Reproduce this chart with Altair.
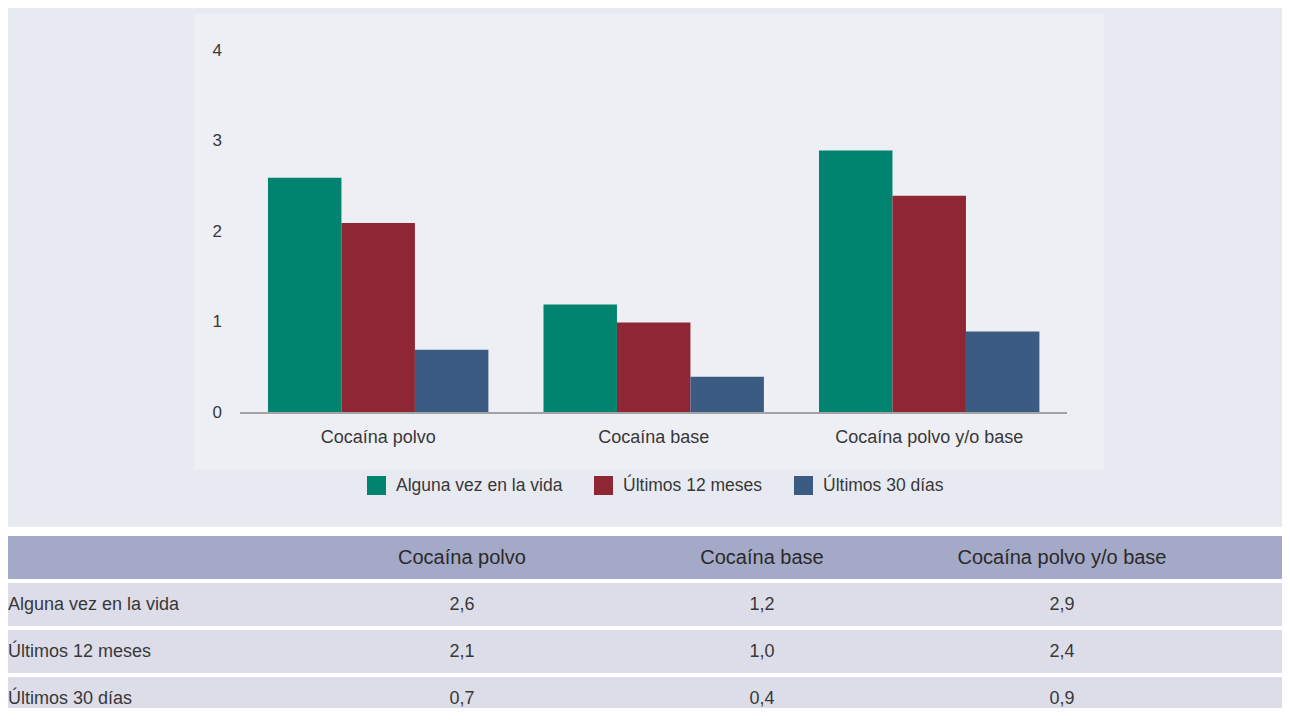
import altair as alt
import pandas as pd

# ---------------- data ----------------
categories = ["Cocaína polvo", "Cocaína base", "Cocaína polvo y/o base"]
series = ["Alguna vez en la vida", "Últimos 12 meses", "Últimos 30 días"]
alguna_vez = [2.6, 1.2, 2.9]
ultimos_12 = [2.1, 1.0, 2.4]
ultimos_30 = [0.7, 0.4, 0.9]
y_ticks = [0, 1, 2, 3, 4]

bar_colors = ["#00846f", "#8e2633", "#3c5b83"]

records = []
for s, vals in zip(series, [alguna_vez, ultimos_12, ultimos_30]):
    for c, v in zip(categories, vals):
        records.append({"cat": c, "serie": s, "valor": v})
df = pd.DataFrame(records)
cat_df = pd.DataFrame({"cat": categories})
tick_df = pd.DataFrame({"tick": y_ticks})

FONT = "Liberation Sans"
TXT = "#383838"
W = 1274
TOP_H = 519
TBL_H = 172

# pixel-identity scales for decorative panels
px = alt.Scale(domain=[0, W], nice=False, zero=False)
py = alt.Scale(domain=[0, TOP_H], reverse=True, nice=False, zero=False)

xs = alt.Scale(type="band", domain=categories, paddingInner=0.2, paddingOuter=0.912, align=0.5173)
ys = alt.Scale(domain=[-1.2597, 4.4751], nice=False, zero=False)

panels = pd.DataFrame({
    "x0": [0, 186], "x1": [W, 1096], "y0": [0, 6], "y1": [TOP_H, 462],
    "capa": ["fondo", "panel"],
})
bg = alt.Chart(panels).mark_rect().encode(
    x=alt.X("x0:Q", scale=px, axis=None), x2="x1:Q",
    y=alt.Y("y0:Q", scale=py, axis=None), y2="y1:Q",
    fill=alt.Fill("capa:N", scale=alt.Scale(domain=["fondo", "panel"], range=["#e8eaf2", "#eeeff4"]), legend=None),
)

bars = alt.Chart(df).mark_bar().encode(
    x=alt.X("cat:N", scale=xs, axis=None),
    xOffset=alt.XOffset("serie:N", scale=alt.Scale(domain=series)),
    y=alt.Y("valor:Q", scale=ys, axis=None),
    y2=alt.datum(0),
    color=alt.Color(
        "serie:N",
        scale=alt.Scale(domain=series, range=bar_colors),
        legend=alt.Legend(
            orient="none", legendX=359, legendY=468, direction="horizontal",
            title=None, symbolType="square", symbolSize=361, symbolStrokeWidth=0,
            labelFont=FONT, labelFontSize=17.5, labelColor=TXT, labelLimit=400,
            labelOffset=10, columnPadding=31, padding=0,
        ),
    ),
)

axis_line = pd.DataFrame({"x0": [232], "x1": [1059], "cero": [0]})
baseline = alt.Chart(axis_line).mark_rule(color="#a3a3a3", strokeWidth=2).encode(
    x=alt.X("x0:Q", scale=px, axis=None), x2="x1:Q",
    y=alt.Y("cero:Q", scale=ys, axis=None),
)

ytext = alt.Chart(tick_df).mark_text(
    align="right", baseline="middle", font=FONT, fontSize=17, color=TXT
).encode(y=alt.Y("tick:Q", scale=ys, axis=None), x=alt.value(214), text="tick:Q")

xtext = alt.Chart(cat_df).mark_text(
    baseline="middle", font=FONT, fontSize=18, color=TXT
).encode(x=alt.X("cat:N", scale=xs, axis=None), y=alt.value(430), text="cat:N")

top = alt.layer(bg, bars, baseline, ytext, xtext).resolve_scale(
    x="independent", y="independent", fill="independent", color="independent"
).properties(width=W, height=TOP_H)

# ---------------- bottom: table ----------------
row_keys = ["encabezado"] + series
row_df = pd.DataFrame({"fila": row_keys, "tipo": ["h", "b", "b", "b"], "ancho": [1, 1, 1, 1]})
yt = alt.Scale(domain=row_keys, range=[0, 184], paddingInner=4 / 47, paddingOuter=0)
xt = alt.Scale(type="band", domain=categories, paddingInner=0, paddingOuter=0.6233, align=0.8128)

row_bg = alt.Chart(row_df).mark_bar(clip=True).encode(
    y=alt.Y("fila:N", scale=yt, axis=None),
    x=alt.X("ancho:Q", scale=alt.Scale(domain=[0, 1], nice=False), axis=None),
    color=alt.Color("tipo:N", scale=alt.Scale(domain=["h", "b"], range=["#a3a9c6", "#dcdde9"]), legend=None),
)

header = alt.Chart(cat_df).transform_calculate(fila="'encabezado'").mark_text(
    baseline="middle", font=FONT, fontSize=20, color="#2a2a2a"
).encode(
    x=alt.X("cat:N", scale=xt, axis=None),
    y=alt.Y("fila:N", scale=yt, axis=None),
    text="cat:N",
)

row_labels = alt.Chart(pd.DataFrame({"fila": series})).mark_text(
    align="left", baseline="middle", font=FONT, fontSize=18, color=TXT
).encode(x=alt.value(0), y=alt.Y("fila:N", scale=yt, axis=None), text="fila:N")

values = alt.Chart(df).transform_calculate(
    etq="replace(format(datum.valor, '.1f'), '.', ',')"
).mark_text(baseline="middle", font=FONT, fontSize=18, color=TXT).encode(
    x=alt.X("cat:N", scale=xt, axis=None),
    y=alt.Y("serie:N", scale=yt, axis=None),
    text="etq:N",
)

table = alt.layer(row_bg, header, row_labels, values).resolve_scale(
    x="independent"
).properties(width=W, height=TBL_H)

chart = (
    alt.vconcat(top, table, spacing=9)
    .resolve_scale(x="independent", y="independent", color="independent", fill="independent")
    .properties(padding=0)
    .configure(background="white")
    .configure_view(stroke=None)
)

chart.save("out.html", embed_options={"renderer": "svg", "actions": False})
